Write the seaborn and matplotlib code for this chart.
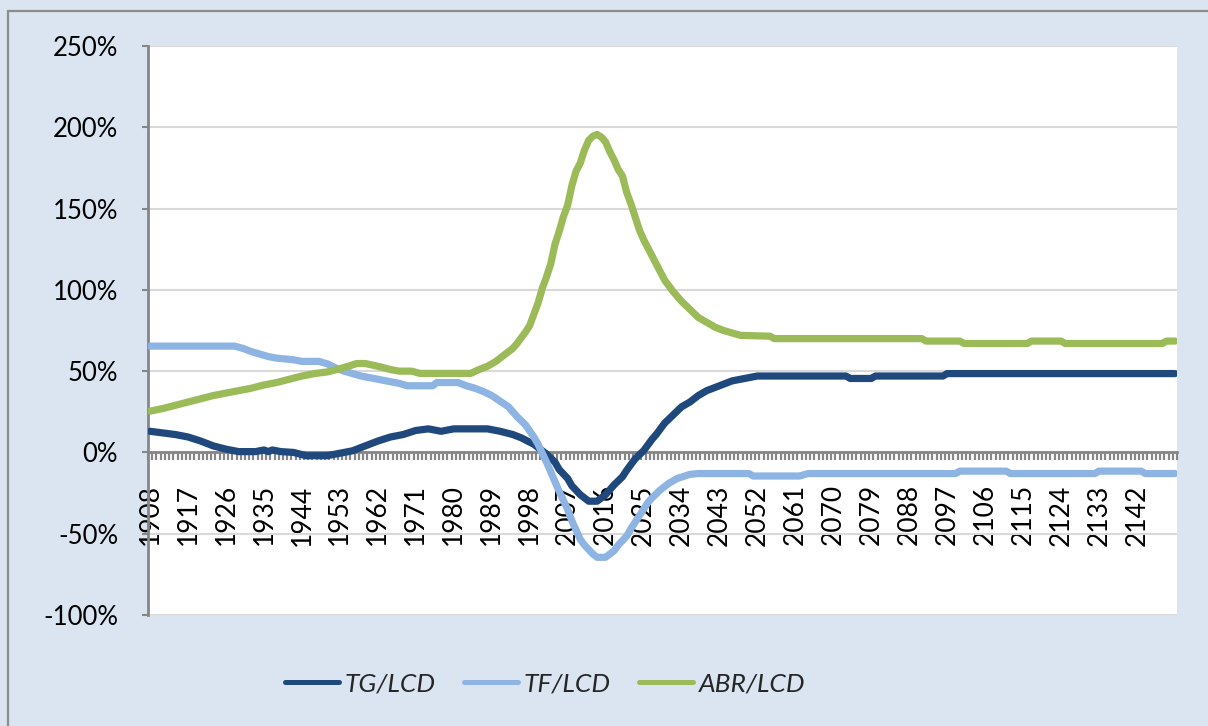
import matplotlib
matplotlib.use("Agg")
import matplotlib.pyplot as plt
from matplotlib.patches import Rectangle
from matplotlib.ticker import FuncFormatter, FixedLocator
from matplotlib.lines import Line2D
import seaborn as sns
import pandas as pd

# ---------------- data (% values) ----------------
tg_years = [1908, 1911, 1914, 1917, 1920, 1923, 1926, 1929, 1933, 1935, 1936, 1937, 1939, 1942,
            1945, 1950, 1953, 1956, 1959, 1962, 1965, 1968, 1971, 1974, 1977, 1980, 1988, 1991,
            1994, 1996, 1999, 2001, 2002, 2004, 2005, 2007, 2008, 2010, 2012, 2014, 2016, 2018,
            2020, 2021, 2023, 2025, 2027, 2028, 2030, 2032, 2034, 2036, 2038, 2040, 2042, 2044,
            2046, 2048, 2050, 2052, 2073, 2074, 2079, 2080, 2096, 2097, 2151]
tg_values = [13, 12, 11, 9.5, 7, 4, 2, 0.5, 0.5, 1.5, 0.5, 1.5, 0.5, 0,
             -2, -2, -0.5, 1, 4, 7, 9.5, 11, 13.5, 14.5, 13, 14.5, 14.5, 13,
             11, 9, 5, 1, -1, -6, -10.5, -16, -20.5, -26, -30, -30, -26, -20,
             -15, -11, -4, 1, 8, 11, 18, 23, 28, 31, 35, 38, 40, 42,
             44, 45, 46, 47, 47, 45.5, 45.5, 47, 47, 48.5, 48.5]

tf_years = [1908, 1928, 1930, 1932, 1934, 1936, 1938, 1942, 1944, 1948, 1950, 1952, 1954, 1956,
            1958, 1962, 1965, 1967, 1969, 1975, 1976, 1981, 1983, 1985, 1987, 1989, 1991, 1993,
            1995, 1997, 1999, 2000, 2002, 2003, 2005, 2007, 2008, 2010, 2011, 2013, 2014, 2016,
            2018, 2019, 2021, 2022, 2024, 2026, 2027, 2029, 2031, 2033, 2036, 2038, 2050, 2051,
            2062, 2064, 2099, 2100, 2111, 2112, 2132, 2133, 2143, 2144, 2151]
tf_values = [65.4, 65.4, 64, 62, 60.5, 59, 58, 57, 56, 56, 54.5, 52, 50, 48.5,
             47, 45, 43.5, 42.5, 41, 41, 43, 43, 41, 39.5, 37.5, 35, 31.5, 28,
             22, 17, 9.5, 5, -6, -12, -24, -35, -42, -53.5, -57, -62.5, -64.5, -64.5,
             -60.5, -57, -51.5, -47, -39, -31, -28, -23, -19, -16, -13.5, -13, -13, -14.5,
             -14.5, -13, -13, -11.5, -11.5, -13, -13, -11.5, -11.5, -13, -13]

abr_years = [1908, 1911, 1914, 1917, 1920, 1923, 1926, 1929, 1932, 1935, 1938, 1941, 1944, 1947,
             1950, 1953, 1955, 1957, 1959, 1962, 1965, 1967, 1970, 1972, 1984, 1986, 1988, 1990,
             1992, 1994, 1995, 1997, 1998, 1999, 2000, 2001, 2002, 2003, 2004, 2005, 2006, 2007,
             2008, 2009, 2010, 2011, 2012, 2013, 2014, 2015, 2016, 2017, 2018, 2019, 2020, 2021,
             2022, 2023, 2024, 2025, 2026, 2027, 2028, 2029, 2030, 2032, 2034, 2036, 2038, 2040,
             2042, 2044, 2046, 2048, 2055, 2056, 2091, 2092, 2100, 2101, 2116, 2117, 2124, 2125,
             2148, 2149, 2151]
abr_values = [25.4, 27, 29, 31, 33, 35, 36.5, 38, 39.5, 41.5, 43, 45, 47, 48.5,
              49.5, 51.5, 53, 54.7, 54.7, 53, 51, 50, 50, 48.6, 48.6, 51, 53, 56,
              60, 64, 67, 74, 78, 85, 92, 101, 108, 116, 128, 136, 145, 152,
              164, 173, 178, 186, 192, 194.5, 195.6, 194, 191, 185, 180, 174, 170, 160,
              153, 145, 137, 131, 126, 121, 116, 111, 106, 99, 93, 88, 83, 80,
              77, 75, 73.5, 72, 71.5, 70, 70, 68.5, 68.5, 67, 67, 68.5, 68.5, 67,
              67, 68.5, 68.5]

series_names = ["TG/LCD", "TF/LCD", "ABR/LCD"]
series_colors = ["#1F497D", "#8DB4E2", "#9BBB59"]

first_year, last_year = 1908, 2151
x_tick_years = list(range(1908, 2143, 9))
x_tick_labels = [str(y) for y in x_tick_years]
y_ticks = [-100, -50, 0, 50, 100, 150, 200, 250]

# ---------------- build long table ----------------
frames = []
for name, yrs, vals in zip(series_names, [tg_years, tf_years, abr_years],
                           [tg_values, tf_values, abr_values]):
    frames.append(pd.DataFrame({"year": yrs, "value": vals, "series": name}))
df = pd.concat(frames, ignore_index=True)

# ---------------- style ----------------
sns.set_theme(style="white")
plt.rcParams["font.family"] = ["Lato", "DejaVu Sans"]

W, H = 1208, 726
fig = plt.figure(figsize=(W / 100, H / 100), dpi=100, facecolor="#DBE5F1")
fig.patches.append(Rectangle((8 / W, -0.1), 2, 1 - 11 / H + 0.1, transform=fig.transFigure,
                             fill=False, edgecolor="#8C8C8C", lw=1.6, zorder=0))

ax = fig.add_axes([148 / W, 1 - 615 / H, (1177 - 148) / W, (615 - 46) / H])
ax.set_facecolor("white")

sns.lineplot(data=df, x="year", y="value", hue="series", hue_order=series_names,
             palette=series_colors, estimator=None, sort=False, linewidth=5.2,
             ax=ax, legend=False, zorder=4)
for ln in ax.lines:
    ln.set_solid_capstyle("round")
    ln.set_solid_joinstyle("round")

ax.set_xlim(first_year - 0.5, last_year + 0.5)
ax.set_ylim(-100, 250)
ax.set_xlabel("")
ax.set_ylabel("")

# y axis
ax.set_yticks(y_ticks)
ax.yaxis.set_major_formatter(FuncFormatter(lambda v, p: f"{v:.0f}%"))
ax.tick_params(axis="y", direction="out", length=4.5, width=1.5, color="#868686",
               pad=17, labelsize=18.5, labelcolor="black", left=True)
ax.yaxis.grid(True, color="#D9D9D9", lw=1.5)
ax.set_axisbelow(True)

# spines
for s in ["top", "right"]:
    ax.spines[s].set_visible(False)
ax.spines["left"].set_color("#868686")
ax.spines["left"].set_linewidth(2)
ax.spines["bottom"].set_position(("data", 0))
ax.spines["bottom"].set_color("#868686")
ax.spines["bottom"].set_linewidth(2)

# x axis at zero
ax.set_xticks(x_tick_years)
ax.set_xticklabels(x_tick_labels, rotation=90)
ax.xaxis.set_minor_locator(FixedLocator([first_year - 0.5 + k
                                         for k in range(last_year - first_year + 2)]))
ax.tick_params(axis="x", which="major", length=0, pad=23, labelsize=19, labelcolor="black",
               bottom=True)
ax.tick_params(axis="x", which="minor", direction="out", length=5.8, width=1.6,
               color="#868686", bottom=True)

# legend
handles = [Line2D([0], [0], color=c, lw=3.6, solid_capstyle="round") for c in series_colors]
fig.legend(handles, series_names, loc="center", bbox_to_anchor=(545 / W, 1 - 684 / H),
           ncol=3, frameon=False, prop={"style": "italic", "size": 19},
           handlelength=2.05, handletextpad=0.23, columnspacing=1.05)

fig.savefig("out.png", dpi=100, facecolor=fig.get_facecolor())
